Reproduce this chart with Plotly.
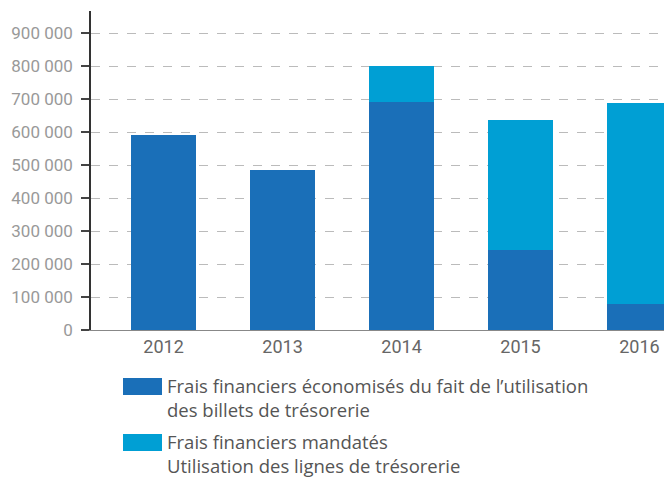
import plotly.graph_objects as go

# données
annees = ["2012", "2013", "2014", "2015", "2016"]
economises = [591000, 485000, 690000, 243000, 79000]
mandates = [0, 0, 110000, 393000, 609000]
noms = [
    "Frais financiers économisés du fait de l’utilisation<br>des billets de trésorerie",
    "Frais financiers mandatés<br>Utilisation des lignes de trésorerie",
]
couleurs = ["#1a6fb8", "#009fd4"]
y_ticks = [0, 100000, 200000, 300000, 400000, 500000, 600000, 700000, 800000, 900000]

fig = go.Figure()
fig.add_bar(x=annees, y=economises, name=noms[0], marker_color=couleurs[0],
            marker_line_width=0, width=0.546)
fig.add_bar(x=annees, y=mandates, name=noms[1], marker_color=couleurs[1],
            marker_line_width=0, width=0.546)

fig.update_layout(
    barmode="stack",
    width=664, height=477,
    margin=dict(l=91, r=0, t=11, b=147),
    plot_bgcolor="white", paper_bgcolor="white",
    separators=", ",
    showlegend=False,
    font=dict(family="Roboto", color="#888"),
    xaxis=dict(
        range=[-0.61, 4.206],
        showline=True, linecolor="#888", linewidth=1,
        ticks="", showgrid=False,
        tickfont=dict(size=18, color="#666"),
    ),
    yaxis=dict(
        range=[0, 967000],
        tickvals=y_ticks, tickformat=",d",
        showline=True, linecolor="#333", linewidth=1.5,
        ticks="outside", ticklen=8, tickcolor="#444", tickwidth=1.5,
        ticklabelstandoff=5,
        showgrid=True, gridcolor="#bbb", griddash="dash", gridwidth=1,
        zeroline=False,
        tickfont=dict(size=17, color="#999"),
    ),
)

# légende dessinée sous le graphique
h = 319.0
for i, (nom, c) in enumerate(zip(noms, couleurs)):
    top = 378 + i * 56
    fig.add_shape(type="rect", xref="paper", yref="paper",
                  x0=(123 - 91) / 573, x1=(162 - 91) / 573,
                  y0=(330 - top) / h, y1=(330 - top - 17) / h,
                  fillcolor=c, line_width=0)
    fig.add_annotation(text=nom, xref="paper", yref="paper",
                       x=(165 - 91) / 573, y=(330 - top + 7) / h,
                       xanchor="left", yanchor="top", align="left",
                       showarrow=False,
                       font=dict(size=18.5, color="#555", family="Open Sans"))

# pas de marge autour de la page
fig.write_html("out.html", config={"displayModeBar": False},
               post_script="document.body.style.margin='0';document.body.style.overflow='hidden';")
